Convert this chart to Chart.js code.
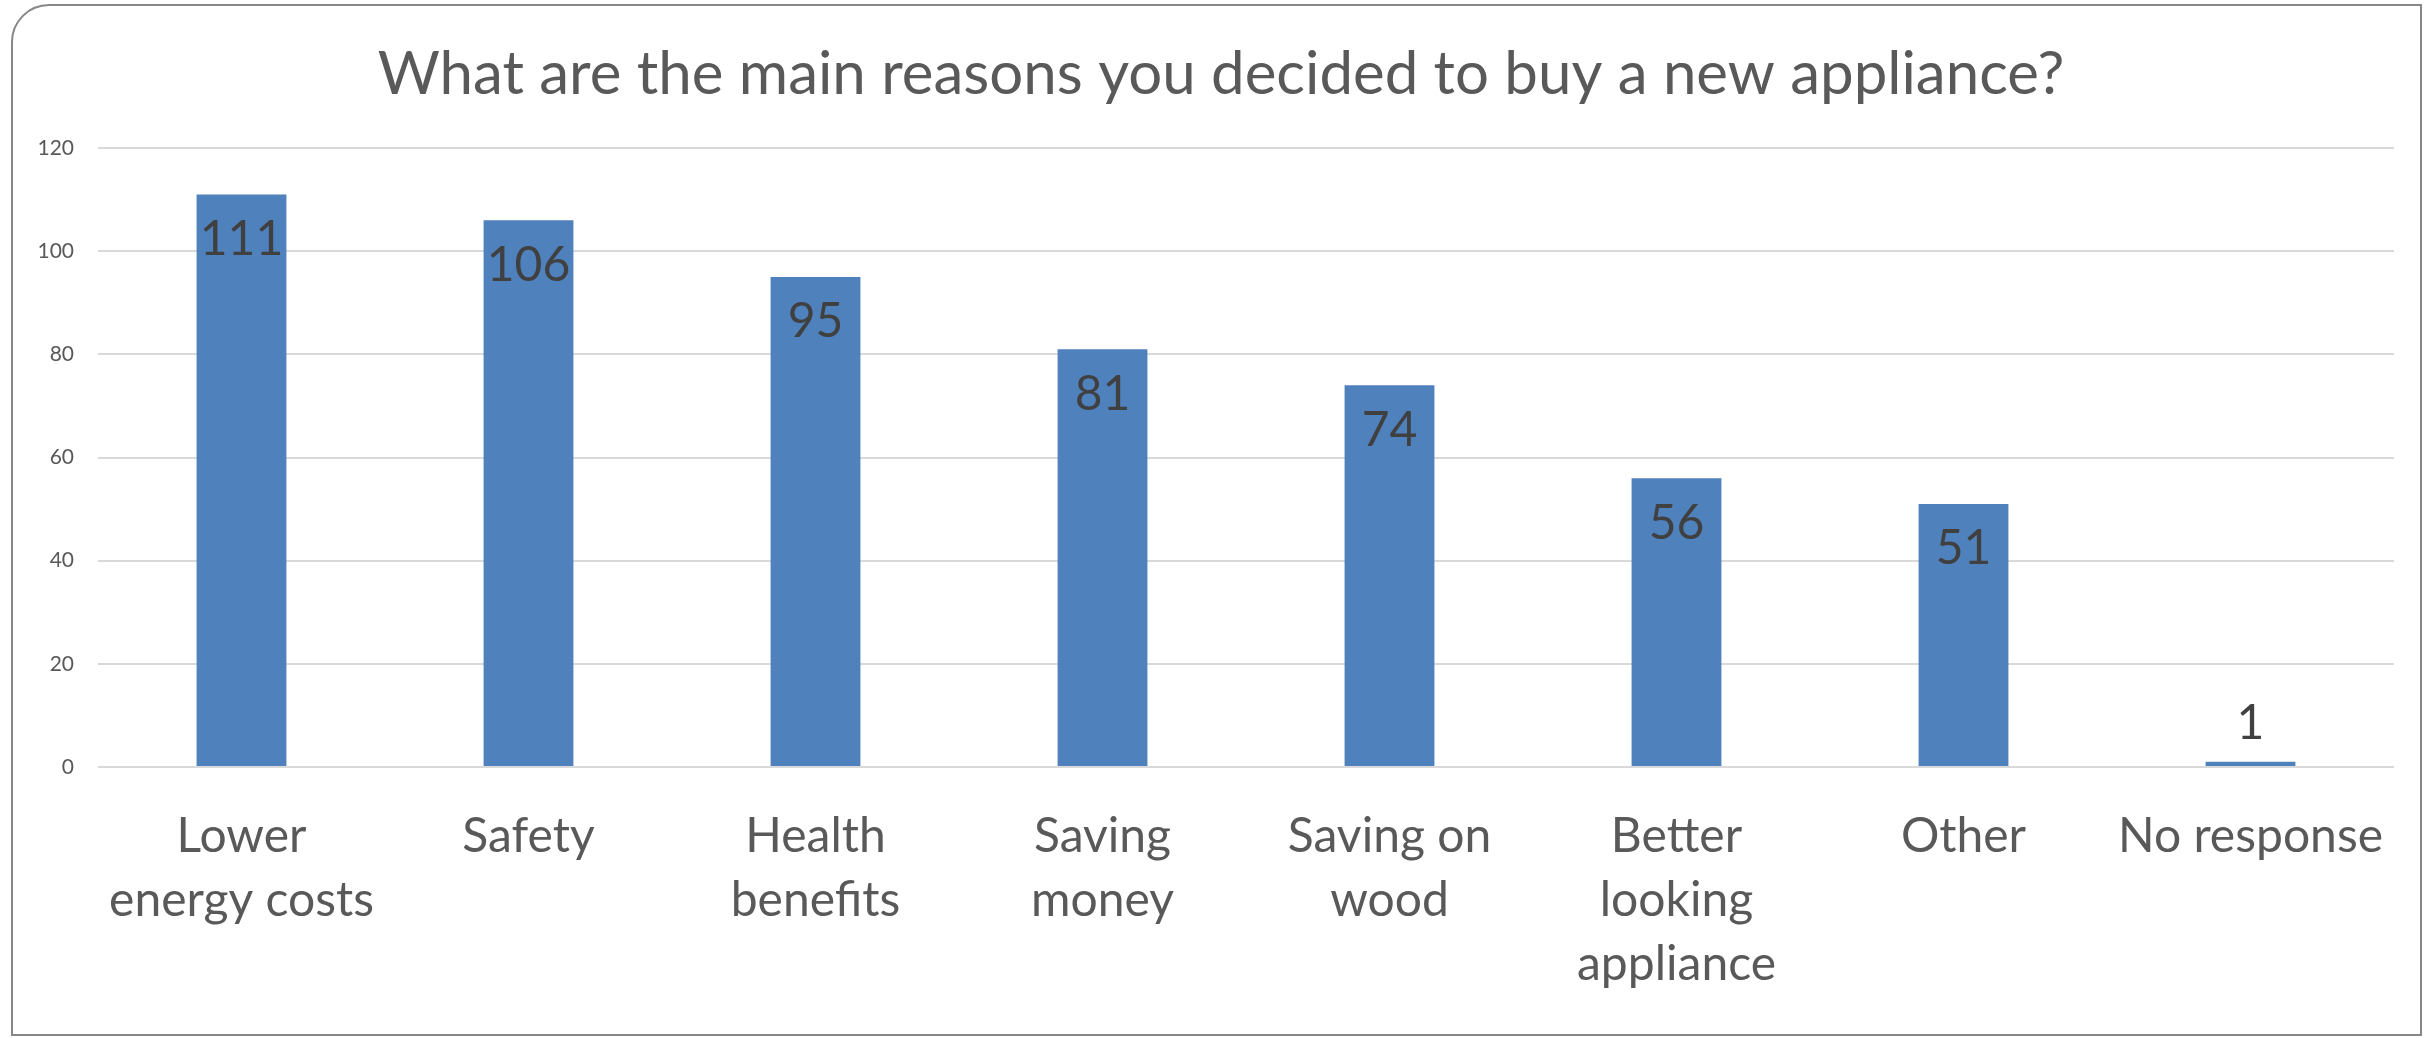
<!DOCTYPE html>
<html>
<head>
<meta charset="utf-8">
<script src="https://cdn.jsdelivr.net/npm/chart.js@4.4.0/dist/chart.umd.min.js"></script>
<style>
html,body{margin:0;padding:0;background:#fff;overflow:hidden}
#wrap{position:relative;width:2433px;height:1038px}
canvas{display:block}
</style>
</head>
<body>
<div id="wrap"><canvas id="c" width="2433" height="1038"></canvas></div>
<script>
const titleText = 'What are the main reasons you decided to buy a new appliance?';
const categories = [['Lower', 'energy costs'], 'Safety', ['Health', 'benefits'], ['Saving', 'money'], ['Saving on', 'wood'], ['Better', 'looking', 'appliance'], 'Other', 'No response'];
const values = [111, 106, 95, 81, 74, 56, 51, 1];
const yMin = 0;
const yMax = 120;
const yStep = 20;

const FONT = 'Lato';

const framePlugin = {
  id: 'frame',
  beforeDraw(chart) {
    const ctx = chart.ctx;
    ctx.save();
    ctx.fillStyle = '#ffffff';
    ctx.fillRect(0, 0, chart.width, chart.height);
    const l = 12, t = 5, r = 2421, b = 1035, rad = 37;
    ctx.beginPath();
    ctx.moveTo(l, b);
    ctx.lineTo(l, t + rad);
    ctx.arcTo(l, t, l + rad, t, rad);
    ctx.lineTo(r, t);
    ctx.lineTo(r, b);
    ctx.closePath();
    ctx.lineWidth = 2;
    ctx.strokeStyle = '#878787';
    ctx.stroke();
    ctx.restore();
  }
};

// centre the title over the frame rather than the padded layout box
const titleShiftPlugin = {
  id: 'titleShift',
  afterLayout(chart) {
    if (chart.titleBlock) {
      chart.titleBlock.left += 12;
    }
  }
};

const valueLabelPlugin = {
  id: 'valueLabels',
  afterDatasetsDraw(chart) {
    const ctx = chart.ctx;
    const meta = chart.getDatasetMeta(0);
    const ds = chart.data.datasets[0].data;
    ctx.save();
    ctx.font = '48px ' + FONT;
    ctx.fillStyle = '#404040';
    ctx.textAlign = 'center';
    ctx.textBaseline = 'middle';
    meta.data.forEach((bar, i) => {
      const h = bar.base - bar.y;
      const y = h > 90 ? bar.y + 45 : bar.y - 38;
      ctx.fillText(String(ds[i]), bar.x, y);
    });
    ctx.restore();
  }
};

function draw() {
  new Chart(document.getElementById('c'), {
    type: 'bar',
    data: {
      labels: categories,
      datasets: [{
        data: values,
        backgroundColor: '#4F81BD',
        borderWidth: 0,
        barPercentage: 0.313,
        categoryPercentage: 1.0
      }]
    },
    options: {
      responsive: false,
      animation: false,
      devicePixelRatio: 1,
      layout: { padding: { top: 10, left: 36, right: 39, bottom: 44 } },
      plugins: {
        legend: { display: false },
        tooltip: { enabled: false },
        title: {
          display: true,
          text: titleText,
          color: '#595959',
          font: { family: FONT, size: 60, weight: 'normal', lineHeight: 1.2 },
          padding: { top: 29, bottom: 37 }
        }
      },
      scales: {
        x: {
          grid: { display: false, drawTicks: false },
          border: { display: false },
          ticks: {
            color: '#595959',
            font: { family: FONT, size: 48, lineHeight: 1.34 },
            padding: 37,
            maxRotation: 0,
            autoSkip: false
          },
          afterFit(scale) { scale.height = 227; }
        },
        y: {
          min: yMin,
          max: yMax,
          grid: { color: '#D9D9D9', lineWidth: 2, drawTicks: false },
          border: { display: false },
          ticks: {
            stepSize: yStep,
            color: '#595959',
            font: { family: FONT, size: 21 },
            padding: 24
          },
          afterFit(scale) { scale.width = 62; }
        }
      }
    },
    plugins: [framePlugin, titleShiftPlugin, valueLabelPlugin]
  });
}

if (document.fonts && document.fonts.load) {
  Promise.all([
    document.fonts.load('60px ' + FONT),
    document.fonts.load('48px ' + FONT)
  ]).then(draw, draw);
} else {
  draw();
}
</script>
</body>
</html>
